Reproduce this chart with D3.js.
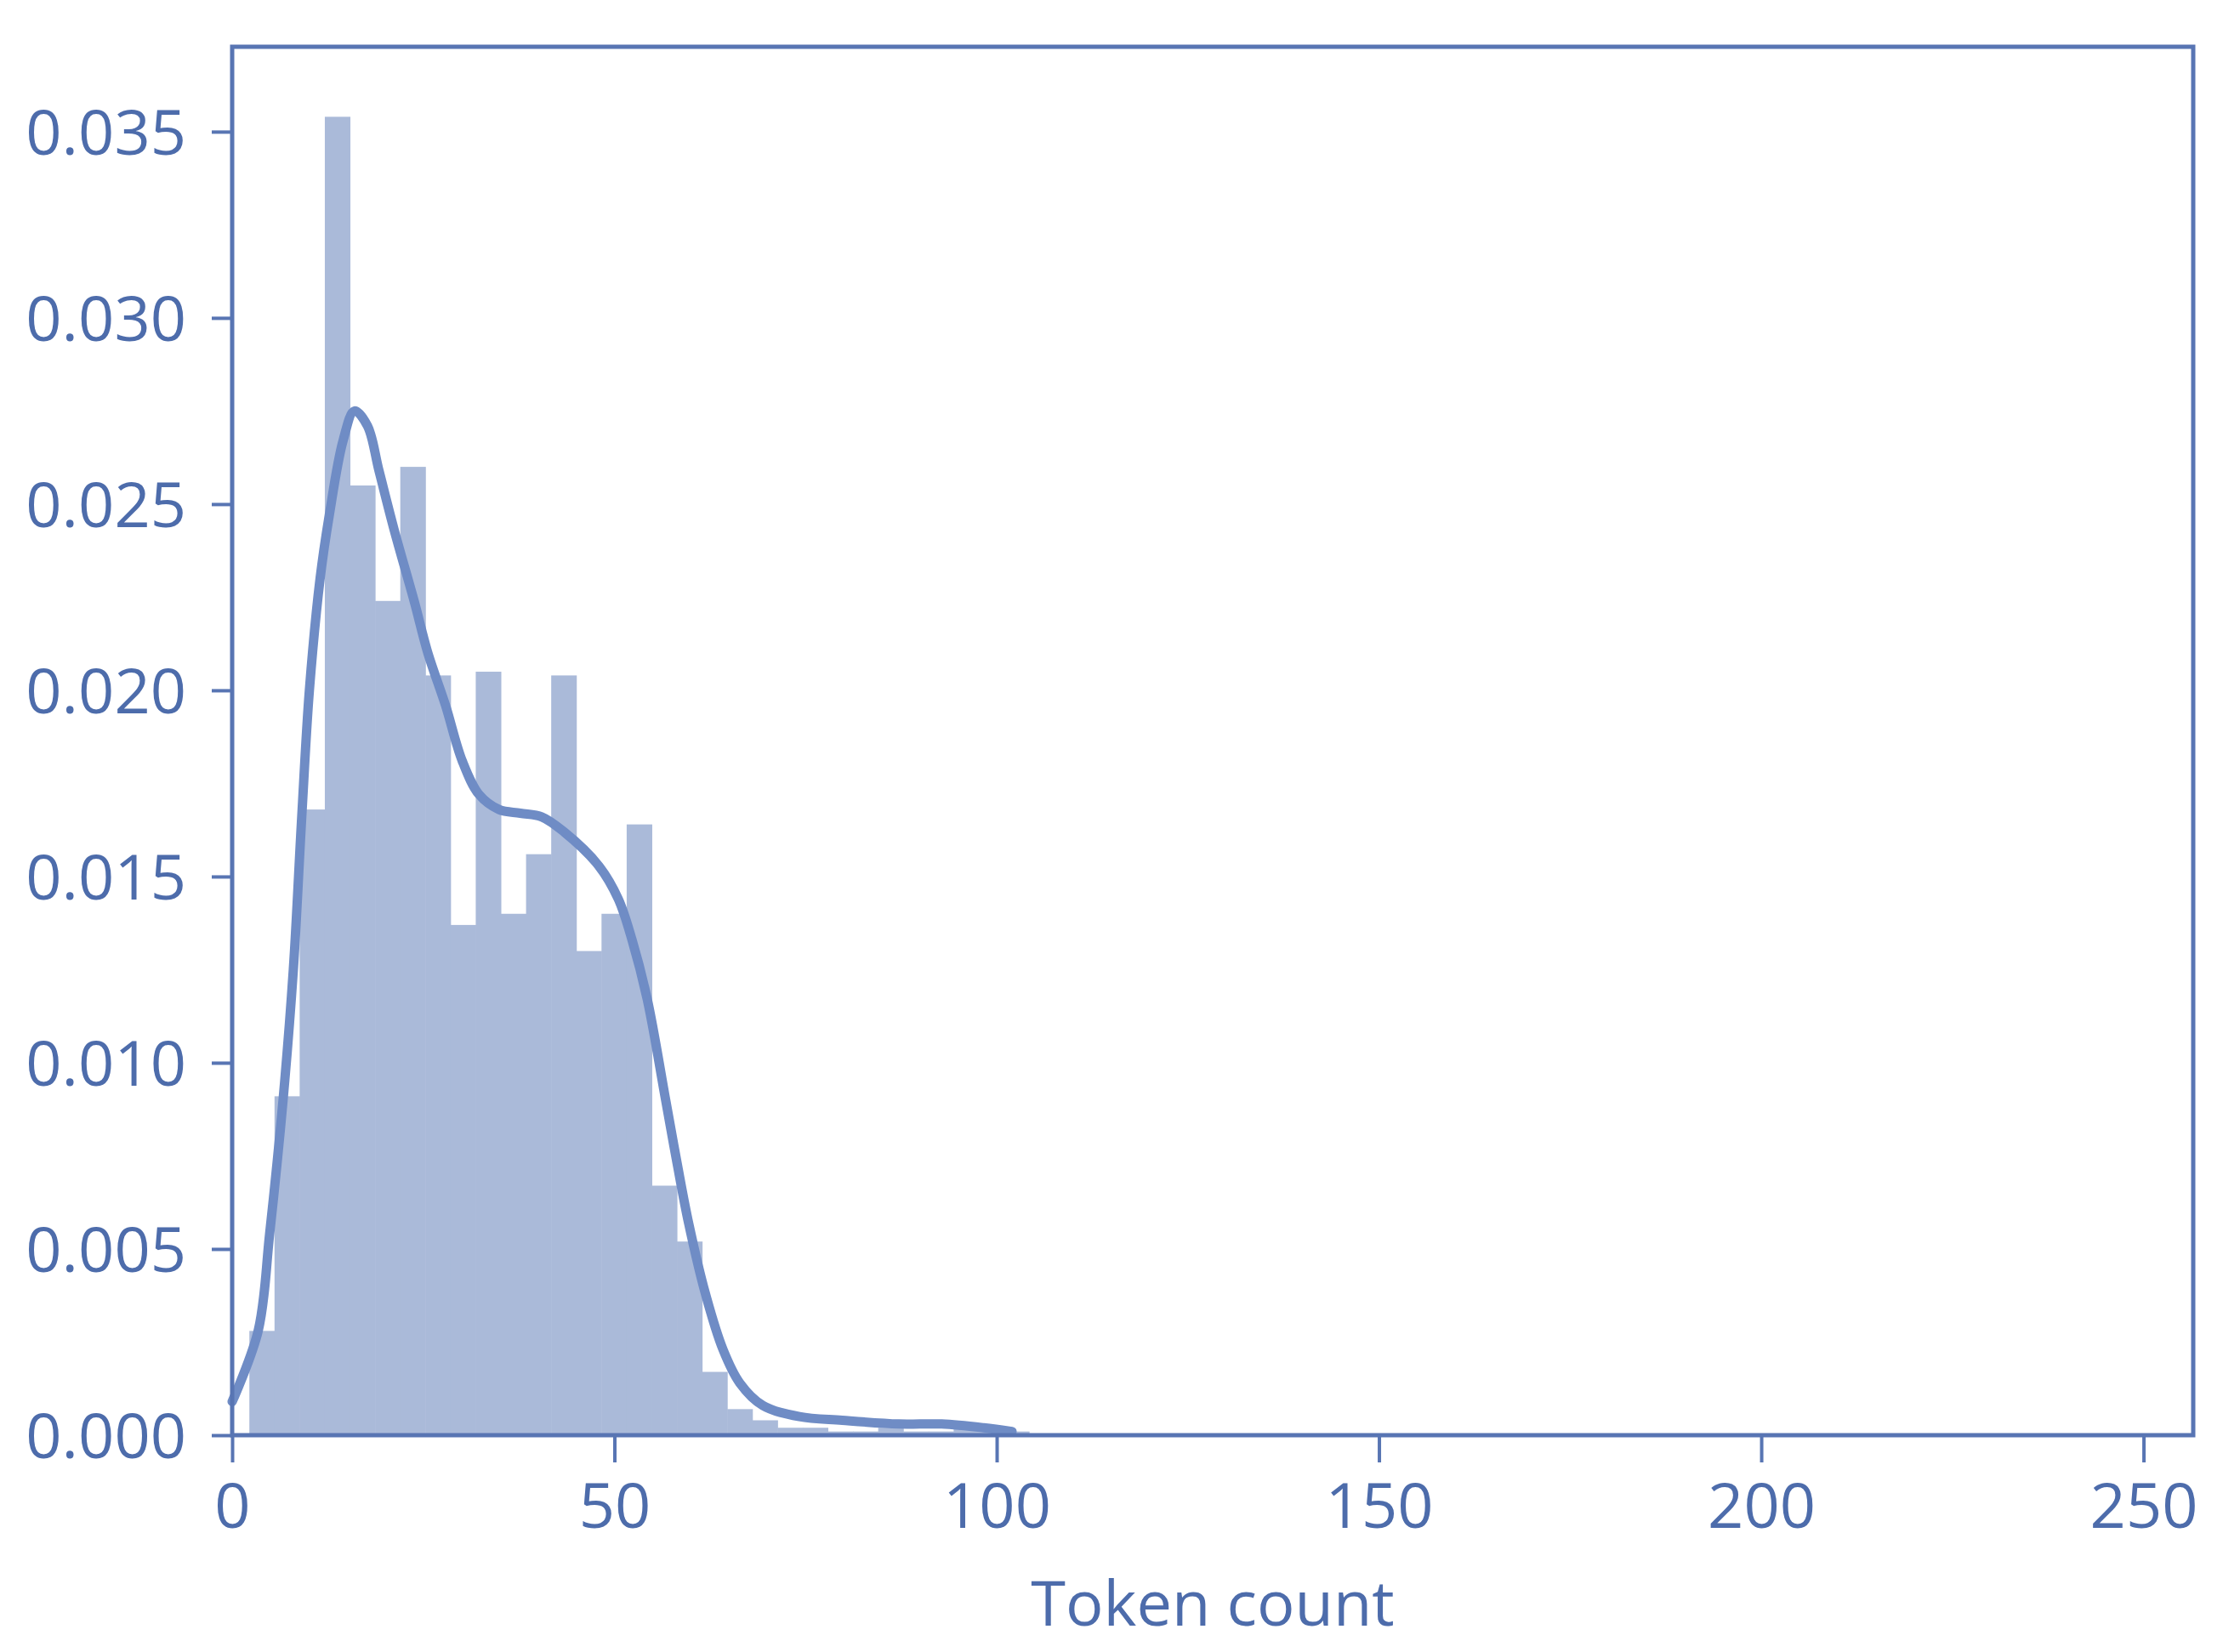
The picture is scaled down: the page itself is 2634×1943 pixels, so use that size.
<!DOCTYPE html>
<html>
<head>
  <title>Token count distribution</title>
  <meta charset="utf-8">
  <style>
    body { margin: 0; background: #fff; }
    text { font-family: "Open Sans", sans-serif; fill: #4d6cab; }
  </style>
</head>
<body>
  <script src="https://cdn.jsdelivr.net/npm/d3@7"></script>
  <script>
    // histogram (density) bins
    const binStart = 2.25;
    const binWidth = 3.29;
    const densities = [0.0028, 0.0091, 0.0168, 0.0354, 0.0255, 0.0224, 0.0260, 0.0204,
      0.0137, 0.0205, 0.0140, 0.0156, 0.0204, 0.0130, 0.0140, 0.0164, 0.0067, 0.0052,
      0.0017, 0.0007, 0.0004, 0.0002, 0.0002, 0.0001, 0.0001, 0.0002, 0.0001, 0.0001,
      0.0002, 0.0002, 0.0001];

    // kde curve
    const kdeX = [0, 3.4, 4.9, 6.7, 8.0, 9.1, 10.1, 11.5, 12.7, 14.5, 16.0, 17.7, 19.2, 21.2,
      23.8, 25.6, 27.9, 30.1, 32.3, 34.9, 37.7, 40.5, 43.4, 47.9, 50.5, 52.3, 54.3, 56.7, 58.2,
      59.7, 61.9, 64.2, 66.4, 69.4, 74.2, 79.8, 87.2, 92.8, 98.3, 102];
    const kdeY = [0.0009, 0.0028, 0.0054, 0.0091, 0.0125, 0.0166, 0.0200, 0.0230, 0.0247,
      0.0267, 0.0275, 0.0271, 0.0259, 0.0243, 0.0224, 0.0210, 0.0196, 0.0181, 0.0172,
      0.0168, 0.0167, 0.0166, 0.0162, 0.0153, 0.0144, 0.0133, 0.0117, 0.0090, 0.0073, 0.0057,
      0.0038, 0.0023, 0.0014, 0.0008, 0.0005, 0.0004, 0.0003, 0.0003, 0.0002, 0.0001];

    const xTicks = [0, 50, 100, 150, 200, 250];
    const yTicks = [0, 0.005, 0.010, 0.015, 0.020, 0.025, 0.030, 0.035];
    const xLabel = "Token count";

    const margin = {top: 55, right: 55, bottom: 255, left: 273};
    const W = 2634, H = 1943;
    const width = W - margin.left - margin.right;
    const height = H - margin.top - margin.bottom;

    const svg = d3.select("body").append("svg")
      .attr("width", W)
      .attr("height", H);

    const g = svg.append("g")
      .attr("transform", `translate(${margin.left},${margin.top})`);

    const x = d3.scaleLinear().domain([0, 256.5]).range([0, width]);
    const y = d3.scaleLinear().domain([0, 0.03728]).range([height, 0]);

    const bins = densities.map((d, i) => ({
      x0: binStart + i * binWidth,
      x1: binStart + (i + 1) * binWidth,
      v: d
    }));

    g.append("g").attr("id", "bars")
      .selectAll("rect")
      .data(bins)
      .enter()
      .append("rect")
      .attr("x", d => x(d.x0))
      .attr("y", d => y(d.v))
      .attr("width", d => x(d.x1) - x(d.x0) + 0.5)
      .attr("height", d => height - y(d.v))
      .style("fill", "#aabad9");

    const kde = kdeX.map((v, i) => [v, kdeY[i]]);
    const line = d3.line()
      .x(d => x(d[0]))
      .y(d => y(d[1]))
      .curve(d3.curveCatmullRom.alpha(0.5));

    g.append("path")
      .attr("d", line(kde))
      .attr("fill", "none")
      .attr("stroke", "#6f8cc5")
      .attr("stroke-width", 11)
      .attr("stroke-linejoin", "round")
      .attr("stroke-linecap", "round");

    // frame
    g.append("rect")
      .attr("width", width)
      .attr("height", height)
      .attr("fill", "none")
      .attr("stroke", "#5875b3")
      .attr("stroke-width", 5);

    const xAxis = g.append("g")
      .attr("transform", `translate(0,${height})`)
      .call(d3.axisBottom(x).tickValues(xTicks).tickSize(32).tickPadding(24).tickFormat(d3.format("d")));

    const yAxis = g.append("g")
      .call(d3.axisLeft(y).tickValues(yTicks).tickSize(24).tickPadding(30).tickFormat(d3.format(".3f")));

    [xAxis, yAxis].forEach(a => {
      a.select(".domain").remove();
      a.selectAll(".tick line").attr("stroke", "#5875b3").attr("stroke-width", 4);
      a.selectAll(".tick text")
        .style("font-size", "74px")
        .style("font-family", "'Open Sans', sans-serif")
        .attr("fill", "#4d6cab");
    });
    yAxis.selectAll(".tick text").attr("dy", "0.36em");

    g.append("text")
      .attr("x", width / 2)
      .attr("y", height + 224)
      .attr("text-anchor", "middle")
      .style("font-size", "74px")
      .text(xLabel);
  </script>
</body>
</html>
